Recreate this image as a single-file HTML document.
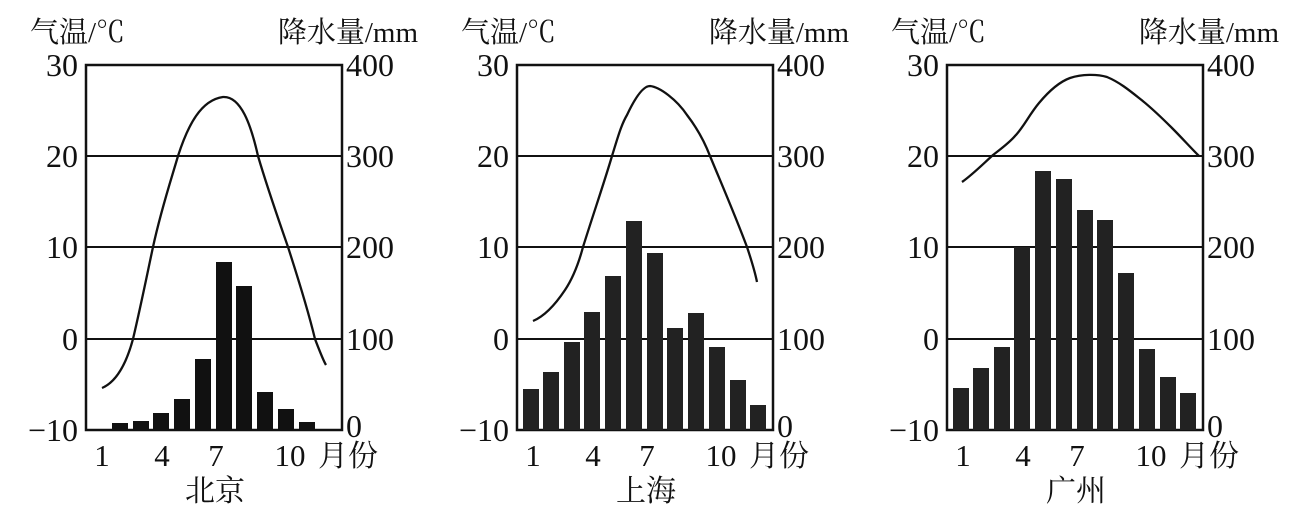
<!DOCTYPE html>
<html><head><meta charset="utf-8"><style>
html,body{margin:0;padding:0;background:#fff;}
svg{display:block;}
text{font-family:"Liberation Serif","Noto Serif CJK SC",serif;fill:#111;}
</style></head><body>
<svg width="1309" height="508" viewBox="0 0 1309 508" xmlns="http://www.w3.org/2000/svg">
<defs>
<g id="frame">
  <rect x="0" y="65" width="256" height="365" fill="none" stroke="#111" stroke-width="2.5"/>
  <line x1="0" y1="156" x2="256" y2="156" stroke="#111" stroke-width="2"/>
  <line x1="0" y1="247" x2="256" y2="247" stroke="#111" stroke-width="2"/>
  <line x1="0" y1="339" x2="256" y2="339" stroke="#111" stroke-width="2"/>
  <g font-size="32" text-anchor="end">
    <text x="-8" y="76">30</text><text x="-8" y="167">20</text><text x="-8" y="258">10</text><text x="-8" y="350">0</text><text x="-8" y="441">−10</text>
  </g>
  <g font-size="32">
    <text x="260" y="76">400</text><text x="260" y="167">300</text><text x="260" y="258">200</text><text x="260" y="350">100</text><text x="260" y="437">0</text>
  </g>
  <g font-size="31" text-anchor="middle">
    <text x="16" y="466">1</text><text x="76" y="466">4</text><text x="130" y="466">7</text><text x="204" y="466">10</text>
  </g>
  <text x="232" y="466" font-size="30">月份</text>
  <text x="-56" y="42" font-size="29">气温/℃</text>
  <text x="332" y="42" font-size="29" text-anchor="end">降水量/mm</text>
</g>
</defs>

<!-- Beijing -->
<g transform="translate(86,0)">
  <use href="#frame"/>
  <g fill="#111">
    <rect x="26" y="423" width="16" height="7"/>
    <rect x="47" y="421" width="16" height="9"/>
    <rect x="67" y="413" width="16" height="17"/>
    <rect x="88" y="399" width="16" height="31"/>
    <rect x="109" y="359" width="16" height="71"/>
    <rect x="130" y="262" width="16" height="168"/>
    <rect x="150" y="286" width="16" height="144"/>
    <rect x="171" y="392" width="16" height="38"/>
    <rect x="192" y="409" width="16" height="21"/>
    <rect x="213" y="422" width="16" height="8"/>
  </g>
  <path d="M16,388 C30,382 40,365 47,339 C55,305 61,275 67,247 C75,210 85,180 92,156 C102,125 115,100 137,97 C155,96 165,125 172,156 C182,190 192,218 202,247 C212,278 222,310 229,339 C234,352 237,360 240,365" fill="none" stroke="#111" stroke-width="2.3"/>
  <text x="129" y="501" font-size="30" text-anchor="middle">北京</text>
</g>

<!-- Shanghai -->
<g transform="translate(517,0)">
  <use href="#frame"/>
  <g fill="#222">
    <rect x="6" y="389" width="16" height="41"/>
    <rect x="26" y="372" width="16" height="58"/>
    <rect x="47" y="342" width="16" height="88"/>
    <rect x="67" y="312" width="16" height="118"/>
    <rect x="88" y="276" width="16" height="154"/>
    <rect x="109" y="221" width="16" height="209"/>
    <rect x="130" y="253" width="16" height="177"/>
    <rect x="150" y="328" width="16" height="102"/>
    <rect x="171" y="313" width="16" height="117"/>
    <rect x="192" y="347" width="16" height="83"/>
    <rect x="213" y="380" width="16" height="50"/>
    <rect x="233" y="405" width="16" height="25"/>
  </g>
  <path d="M16,321 C28,316 38,305 48,290 C56,278 62,262 66,247 C76,215 88,180 95,156 C100,140 104,125 110,115 C118,98 126,86 133,86 C143,87 160,100 170,115 C180,128 188,143 193,156 C205,185 218,215 230,247 C235,262 238,272 240,282" fill="none" stroke="#111" stroke-width="2.3"/>
  <text x="129" y="501" font-size="30" text-anchor="middle">上海</text>
</g>

<!-- Guangzhou -->
<g transform="translate(947,0)">
  <use href="#frame"/>
  <g fill="#222">
    <rect x="6" y="388" width="16" height="42"/>
    <rect x="26" y="368" width="16" height="62"/>
    <rect x="47" y="347" width="16" height="83"/>
    <rect x="67" y="247" width="16" height="183"/>
    <rect x="88" y="171" width="16" height="259"/>
    <rect x="109" y="179" width="16" height="251"/>
    <rect x="130" y="210" width="16" height="220"/>
    <rect x="150" y="220" width="16" height="210"/>
    <rect x="171" y="273" width="16" height="157"/>
    <rect x="192" y="349" width="16" height="81"/>
    <rect x="213" y="377" width="16" height="53"/>
    <rect x="233" y="393" width="16" height="37"/>
  </g>
  <path d="M15,182 C25,175 35,165 46,155 C55,148 62,143 68,136 C76,128 82,115 92,103 C102,91 112,82 123,78 C135,74 150,74 160,77 C172,82 182,90 192,98 C205,108 215,118 225,128 C235,138 243,147 252,156" fill="none" stroke="#111" stroke-width="2.3"/>
  <text x="129" y="501" font-size="30" text-anchor="middle">广州</text>
</g>
</svg>
</body></html>
